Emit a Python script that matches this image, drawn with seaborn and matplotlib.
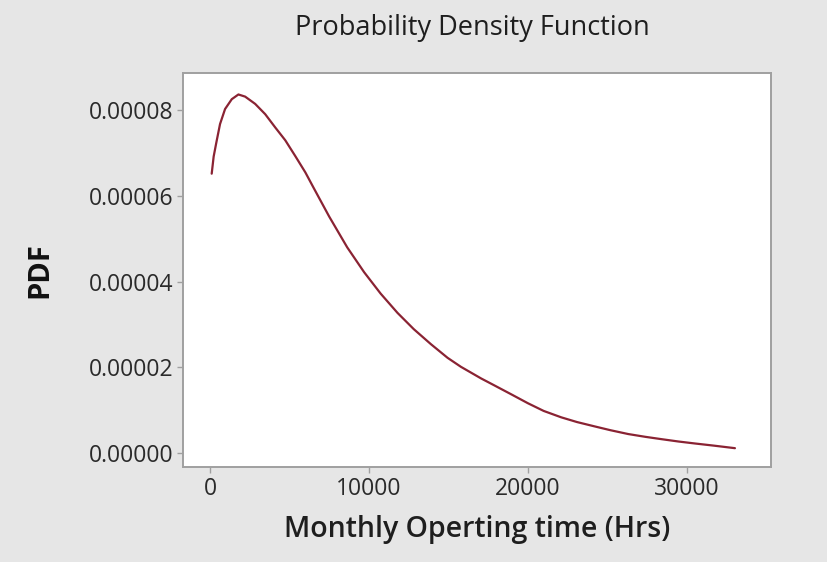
import matplotlib
matplotlib.use("Agg")
import matplotlib.pyplot as plt
import seaborn as sns
import pandas as pd

# Values
hours = [107, 230, 400, 632, 948, 1371, 1788, 2211, 2843, 3474, 4106, 4738, 5370,
         6002, 6507, 7500, 8636, 9700, 10739, 11800, 12824, 13900, 14953, 15793,
         17056, 17878, 19000, 20006, 21000, 22110, 23100, 24194, 25200, 26323,
         27400, 28427, 29500, 30512, 31700, 33039]
pdf = [6.52e-5, 6.92e-5, 7.25e-5, 7.68e-5, 8.03e-5, 8.26e-5, 8.37e-5, 8.32e-5,
       8.15e-5, 7.91e-5, 7.60e-5, 7.30e-5, 6.93e-5, 6.55e-5, 6.20e-5, 5.52e-5,
       4.80e-5, 4.22e-5, 3.72e-5, 3.27e-5, 2.89e-5, 2.54e-5, 2.22e-5, 2.01e-5,
       1.74e-5, 1.58e-5, 1.36e-5, 1.16e-5, 0.98e-5, 0.83e-5, 0.72e-5, 0.62e-5,
       0.53e-5, 0.44e-5, 0.375e-5, 0.32e-5, 0.265e-5, 0.22e-5, 0.17e-5, 0.11e-5]
x_ticks = [0, 10000, 20000, 30000]
y_ticks = [0.0, 0.00002, 0.00004, 0.00006, 0.00008]
title = "Probability Density Function"
x_label = "Monthly Operting time (Hrs)"
y_label = "PDF"

df = pd.DataFrame({"x": hours, "y": pdf})

sns.set_theme(style="white")
plt.rcParams["font.family"] = ["Open Sans", "DejaVu Sans"]

fig = plt.figure(figsize=(8.28, 5.62), dpi=100, facecolor="#e6e6e6")
ax = fig.add_axes([0.221, 0.169, 0.710, 0.701])
ax.set_facecolor("white")

sns.lineplot(data=df, x="x", y="y", ax=ax, color="#8a2333", linewidth=1.6)

ax.set_xlim(-1700, 35300)
ax.set_ylim(-0.0000033, 0.0000887)
ax.set_xticks(x_ticks)
ax.set_xticklabels([str(v) for v in x_ticks])
ax.set_yticks(y_ticks)
ax.set_yticklabels([f"{v:.5f}" for v in y_ticks])

for s in ax.spines.values():
    s.set_color("#a0a0a0")
    s.set_linewidth(1.4)

ax.tick_params(axis="both", which="both", direction="out", length=4, width=1,
               color="#a0a0a0", labelsize=16.5, labelcolor="#2a2a2a", pad=3,
               bottom=True, left=True)

ax.set_xlabel(x_label, fontsize=20.5, color="#1e1e1e", fontweight="semibold",
              labelpad=10)
ax.set_ylabel(y_label, fontsize=21, color="#111111", fontweight="bold", labelpad=25)
fig.text(0.570, 0.951, title, ha="center", va="center", fontsize=19.5,
         color="#1e1e1e", fontweight="medium")

fig.savefig("out.png", dpi=100, facecolor=fig.get_facecolor())
